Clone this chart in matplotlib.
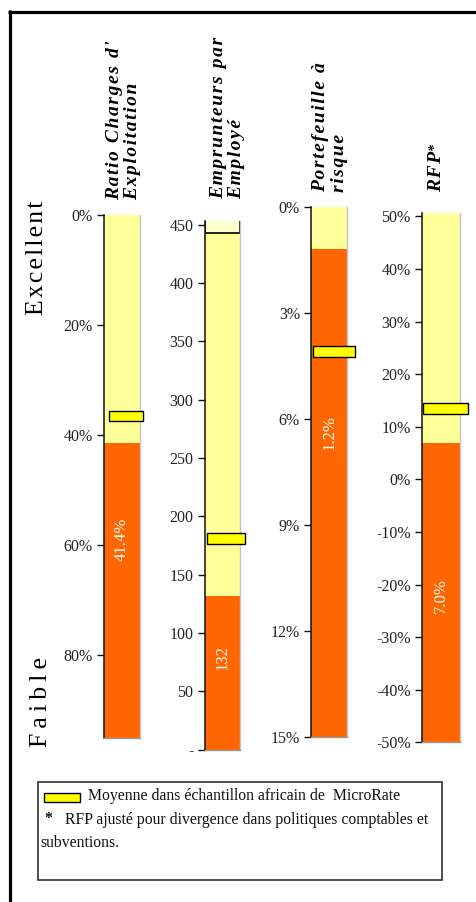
import matplotlib
matplotlib.use("Agg")
import matplotlib.pyplot as plt
from matplotlib.patches import Rectangle
from matplotlib.lines import Line2D

# ---- data -------------------------------------------------------------
titles = ["Ratio Charges d'\nExploitation", "Emprunteurs par\nEmployé",
          "Portefeuille à\nrisque", "RFP"]
values = [41.4, 132, 1.2, 7.0]                 # institution value (orange bar)
value_labels = ["41.4%", "132", "1.2%", "7.0%"]
averages = [36.5, 181, 4.1, 13.5]              # African sample average (marker)
emp_cap = 443                                  # upper band on the borrowers scale

ticks_1 = [0, 20, 40, 60, 80]
ticks_2 = [0, 50, 100, 150, 200, 250, 300, 350, 400, 450]
ticks_3 = [0, 3, 6, 9, 12, 15]
ticks_4 = [50, 40, 30, 20, 10, 0, -10, -20, -30, -40, -50]
ticklabels_1 = ["0%", "20%", "40%", "60%", "80%"]
ticklabels_2 = ["-", "50", "100", "150", "200", "250", "300", "350", "400", "450"]
ticklabels_3 = ["0%", "3%", "6%", "9%", "12%", "15%"]
ticklabels_4 = ["50%", "40%", "30%", "20%", "10%", "0%", "-10%", "-20%",
                "-30%", "-40%", "-50%"]

# ---- styling ----------------------------------------------------------
W, H = 476, 902
SERIF = ["Liberation Serif", "DejaVu Serif"]
YELLOW_BG = "#FFFF99"
ORANGE = "#FF6600"
MARKER = "#FFFF00"
MARKER_PX = 10.5

plt.rcParams["font.family"] = SERIF

fig = plt.figure(figsize=(W / 100, H / 100), dpi=100)


def px_axes(l, t, r, b):
    return fig.add_axes([l / W, 1 - b / H, (r - l) / W, (b - t) / H])


def spaced(s, sep="\u200a"):
    return "\n".join(sep.join(line) for line in s.split("\n"))


# panel geometry in pixels: left, top, right, bottom ; y limits (bottom, top)
panels = [
    dict(box=(104, 215, 140, 738), ylim=(95, 0), ticks=ticks_1, tl=ticklabels_1,
         mx=(0.13, 1.09), label_y=59, title_xy=(106, 200)),
    dict(box=(204.5, 221, 240, 749.6), ylim=(0, 453), ticks=ticks_2, tl=ticklabels_2,
         mx=(0.07, 1.14), label_y=79, title_xy=(210, 199)),
    dict(box=(311, 206.7, 347.3, 736.7), ylim=(15, 0), ticks=ticks_3, tl=ticklabels_3,
         mx=(0.047, 1.21), label_y=6.4, title_xy=(312, 192)),
    dict(box=(421.7, 213.3, 460, 742.3), ylim=(-50, 50.6), ticks=ticks_4, tl=ticklabels_4,
         mx=(0.026, 1.2), label_y=-22, title_xy=(428, 192)),
]

for i, p in enumerate(panels):
    l, t, r, b = p["box"]
    ax = px_axes(l, t, r, b)
    lo, hi = p["ylim"]
    ax.set_xlim(-0.5, 0.5)
    ax.set_ylim(lo, hi)
    ymin, ymax = min(lo, hi), max(lo, hi)
    worst = lo  # bottom of the scale

    # full-scale background
    ax.bar(0, ymax - ymin, bottom=ymin, width=1, color=YELLOW_BG, zorder=1)
    # institution bar from the weak end of the scale up to its value
    v = values[i]
    ax.bar(0, abs(v - worst), bottom=min(v, worst), width=1, color=ORANGE, zorder=2)

    if i == 1:
        ax.bar(0, 30, bottom=emp_cap, width=1, color="#FFFFCC",
               edgecolor="black", linewidth=1.2, zorder=3)

    # average marker
    f0, f1 = p["mx"]
    mh = (ymax - ymin) * MARKER_PX / (b - t)
    ax.bar((f0 + f1) / 2 - 0.5, mh, bottom=averages[i] - mh / 2, width=f1 - f0,
           color=MARKER, edgecolor="black", linewidth=1.0, zorder=5, clip_on=False)

    ax.text(0, p["label_y"], value_labels[i], rotation=90, ha="center", va="center",
            color="white", fontsize=12, zorder=6)

    ax.set_yticks(p["ticks"])
    ax.set_yticklabels(p["tl"])
    ax.set_xticks([])
    ax.tick_params(axis="y", direction="out", length=5, width=1, pad=3,
                   labelsize=11.5, labelcolor="#222222", color="#111111")
    ax.spines["top"].set_visible(False)
    ax.spines["left"].set_color("#111111")
    ax.spines["left"].set_linewidth(1.1)
    ax.spines["right"].set_color("#c4c4c4")
    ax.spines["right"].set_linewidth(1.0)
    ax.spines["bottom"].set_color("#9a9a9a")
    ax.spines["bottom"].set_linewidth(1.0)
    ax.set_facecolor("none")
    for sp in ax.spines.values():
        sp.set_zorder(4)

    tx, ty = p["title_xy"]
    fig.text(tx / W, 1 - ty / H, spaced(titles[i]), rotation=90, ha="left", va="bottom",
             fontsize=14, fontweight="bold", fontstyle="italic",
             linespacing=1.12, multialignment="left", color="black")

# superscript asterisk of the RFP title
fig.text(428 / W, 1 - 146 / H, "*", rotation=90, ha="left", va="center",
         fontsize=10, fontweight="bold", fontstyle="italic")

# scale labels on the left
fig.text(26 / W, 1 - 201 / H, spaced("Excellent"), rotation=90, ha="left", va="top",
         fontsize=18.5)
fig.text(30 / W, 1 - 747 / H, spaced("Faible", "\u2009"), rotation=90, ha="left",
         va="bottom", fontsize=18.5)

# outer frame (top and left rules)
fig.add_artist(Line2D([8 / W, 1], [1 - 11.5 / H] * 2, lw=2.3, color="black",
                      transform=fig.transFigure, solid_capstyle="butt"))
fig.add_artist(Line2D([9.5 / W] * 2, [0, 1 - 10 / H], lw=2.3, color="black",
                      transform=fig.transFigure, solid_capstyle="butt"))

# legend box
fig.add_artist(Rectangle((37.7 / W, 1 - 880 / H), (441.7 - 37.7) / W, (880 - 781.7) / H,
                         facecolor="white", edgecolor="#333333", lw=1.2,
                         transform=fig.transFigure))
fig.add_artist(Rectangle((44 / W, 1 - 802 / H), 36 / W, 9 / H,
                         facecolor=MARKER, edgecolor="black", lw=1.0,
                         transform=fig.transFigure))
LEG_FS = 11.3
fig.text(88 / W, 1 - 796 / H, "Moyenne dans échantillon africain de  MicroRate",
         va="center", ha="left", fontsize=LEG_FS, color="#111111")
fig.text(44 / W, 1 - 819 / H, "*", va="center", ha="left", fontsize=LEG_FS,
         fontweight="bold", color="#111111")
fig.text(65 / W, 1 - 820 / H, "RFP ajusté pour divergence dans politiques comptables et",
         va="center", ha="left", fontsize=LEG_FS, color="#111111")
fig.text(40 / W, 1 - 843 / H, "subventions.", va="center", ha="left", fontsize=LEG_FS,
         color="#111111")

fig.savefig("out.png", dpi=100, facecolor="white")
